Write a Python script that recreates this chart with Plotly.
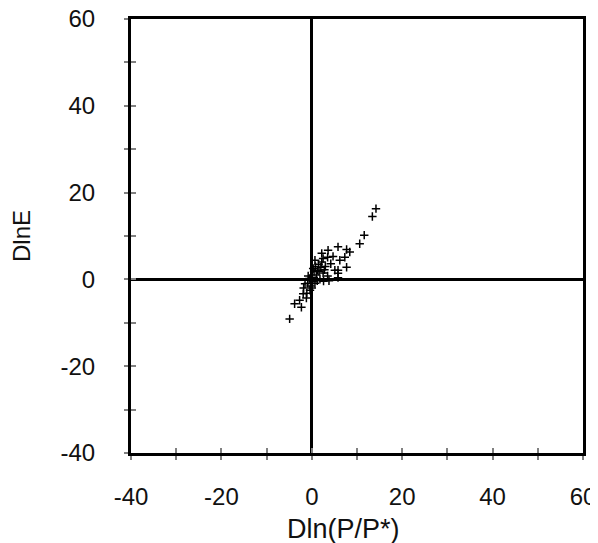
import plotly.graph_objects as go

# Data: Dln(P/P*) (x) vs DlnE (y)
x_vals = [14.2, 13.4, 11.6, 10.6, 5.8, 7.7, 3.6, 4.7, 7.3, 2.5, 7.7, 5.8, 5.8, 6.2, 8.4,
          3.5, 2.2, 0.7, 1.3, 0.0, -0.9, 0.7, -0.4, -1.1, 5.1, 5.8,
          1.5, 2.0, 0.5, 1.0, 2.5, 3.0, -0.5, 0.2, 1.8, -1.5, 0.8, 2.8, 1.2, -0.3,
          3.5, 2.2, 0.3, -0.8, 1.6, 4.2, 0.0, -1.8, 2.6, 3.8,
          -1.9, -2.7, -3.8, -2.3, -4.9, -1.2]
y_vals = [16.3, 14.5, 10.2, 8.2, 7.5, 6.9, 6.7, 5.3, 5.1, 4.8, 2.8, 2.1, 0.4, 4.4, 6.3,
          5.1, 6.0, 4.4, 2.1, 0.5, -0.9, -0.9, -2.5, -3.2, 2.1, 1.4,
          3.5, 2.8, 1.8, 1.0, 1.5, 3.0, 0.2, -0.5, 0.0, -1.0, 3.0, 2.2, -0.3, -1.5,
          0.8, 4.0, 2.5, 0.8, 1.9, 3.6, -2.0, -2.0, -0.4, -0.3,
          -3.3, -4.8, -5.6, -6.4, -9.1, -4.3]

x_range = [-40, 60]
y_range = [-40, 60]
tick_values = [-40, -20, 0, 20, 40, 60]
tick_labels = ["-40", "-20", "0", "20", "40", "60"]
x_title = "Dln(P/P*)"
y_title = "DlnE"

font_family = "Liberation Sans, Arial, sans-serif"
tick_gray = "#808080"

fig = go.Figure()
fig.add_trace(go.Scatter(
    x=x_vals, y=y_vals, mode="markers",
    marker=dict(symbol="cross-thin", size=6, line=dict(color="black", width=1.5)),
    showlegend=False, hoverinfo="x+y",
))
# invisible trace to realise the overlay axes (inner half of crossing ticks)
fig.add_trace(go.Scatter(x=[None], y=[None], xaxis="x2", yaxis="y2",
                         showlegend=False, hoverinfo="skip"))

common = dict(
    showgrid=False, zeroline=True, zerolinecolor="black", zerolinewidth=3,
    showline=True, linecolor="black", linewidth=3, mirror=True,
    ticks="outside", ticklen=4, tickwidth=2, tickcolor=tick_gray,
    tickmode="array", tickvals=tick_values, ticktext=tick_labels,
    minor=dict(ticks="outside", ticklen=4, tickwidth=2, tickcolor=tick_gray, dtick=10, tick0=0),
    tickfont=dict(family=font_family, size=24, color="#111111"),
    ticklabeloverflow="allow",
    automargin=False,
)

fig.update_layout(
    width=598, height=543,
    margin=dict(l=123, r=23, t=11, b=98),
    paper_bgcolor="white", plot_bgcolor="white",
    font=dict(family=font_family, color="#111111"),
    xaxis=dict(range=x_range, ticklabelstandoff=16, **common),
    yaxis=dict(range=y_range, ticklabelstandoff=24,
               title=dict(text=y_title, font=dict(size=24), standoff=26), **common),
    xaxis2=dict(range=x_range, overlaying="x", anchor="y2", side="bottom",
                showgrid=False, zeroline=False, showline=False, showticklabels=False,
                ticks="inside", ticklen=5, tickwidth=2, tickcolor=tick_gray, dtick=10, tick0=0,
                automargin=False),
    yaxis2=dict(range=y_range, overlaying="y", anchor="x2", side="left",
                showgrid=False, zeroline=False, showline=False, showticklabels=False,
                ticks="inside", ticklen=5, tickwidth=2, tickcolor=tick_gray, dtick=10, tick0=0,
                automargin=False),
    annotations=[dict(text=x_title, xref="paper", yref="paper", x=0.471, y=-0.175,
                      xanchor="center", yanchor="middle", showarrow=False,
                      font=dict(family=font_family, size=27, color="#111111"))],
)

fig.write_html("out.html")
